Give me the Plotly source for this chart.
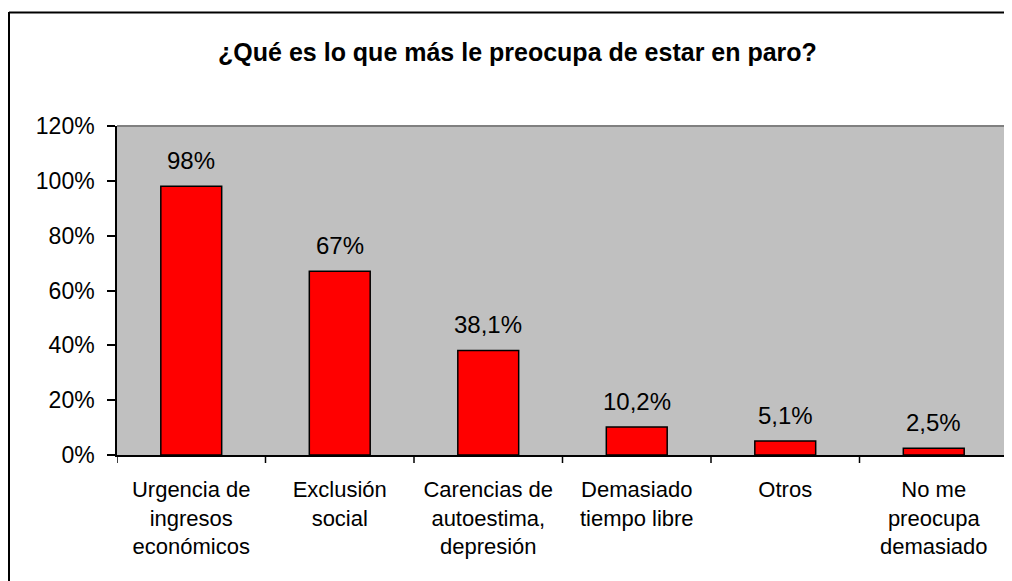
import plotly.graph_objects as go

categories = ["Urgencia de<br>ingresos<br>económicos", "Exclusión<br>social",
              "Carencias de<br>autoestima,<br>depresión", "Demasiado<br>tiempo libre",
              "Otros", "No me<br>preocupa<br>demasiado"]
values = [98, 67, 38.1, 10.2, 5.1, 2.5]
labels = ["98%", "67%", "38,1%", "10,2%", "5,1%", "2,5%"]
tick_vals = [0, 20, 40, 60, 80, 100, 120]
tick_text = ["0%", "20%", "40%", "60%", "80%", "100%", "120%"]

# page body has an 8px margin, so the figure is drawn offset by 8px
W, H = 1004, 573
L, R, T, B = 109, 4, 118, 126
pw, ph = W - L - R, H - T - B

def px(x):
    return (x - L) / pw

def py(y):
    return (H - B - y) / ph

FONT = "Liberation Sans, Arial"
xs = list(range(len(categories)))

fig = go.Figure(go.Bar(
    x=xs, y=values,
    marker=dict(color="#FF0000", line=dict(color="black", width=1.5)),
    cliponaxis=False, width=0.41, hoverinfo="skip",
))

annotations = [dict(x=x, y=v, text=t, xref="x", yref="y", showarrow=False,
                    yanchor="middle", yshift=26,
                    font=dict(family=FONT, size=24, color="black"))
               for x, v, t in zip(xs, values, labels)]

fig.update_layout(
    width=W, height=H,
    margin=dict(l=L, r=R, t=T, b=B),
    paper_bgcolor="white", plot_bgcolor="#C0C0C0",
    showlegend=False,
    font=dict(family=FONT, size=22, color="black"),
    title=dict(text="<b>¿Qué es lo que más le preocupa de estar en paro?</b>",
               x=509.5 / W, xanchor="center", y=1 - 44 / H, yanchor="middle",
               font=dict(size=25, family=FONT)),
    xaxis=dict(range=[-0.5, 5.5], tickvals=xs, ticktext=categories,
               showgrid=False, zeroline=False, showline=True, linecolor="black", linewidth=1.5,
               ticks="", ticklabelstandoff=14, fixedrange=True,
               tickfont=dict(size=22)),
    yaxis=dict(range=[0, 120], tickvals=tick_vals, ticktext=tick_text, showgrid=False,
               zeroline=False, showline=True, linecolor="black", linewidth=1.5,
               ticks="outside", ticklen=8, tickcolor="black", tickwidth=1.5,
               ticklabelstandoff=8, fixedrange=True, tickfont=dict(size=23)),
    annotations=annotations,
)

shapes = []
# category boundary tick marks on the x axis
for i in range(7):
    shapes.append(dict(type="line", xref="x", yref="paper", x0=i - 0.5, x1=i - 0.5,
                       y0=0, y1=py(H - B + 8), line=dict(color="black", width=1.5)))
# gray plot-area border top and right
shapes.append(dict(type="line", xref="paper", yref="paper", x0=0, x1=1, y0=1, y1=1,
                   line=dict(color="#808080", width=2)))
shapes.append(dict(type="line", xref="paper", yref="paper", x0=1, x1=1, y0=0, y1=1,
                   line=dict(color="#808080", width=2)))
# outer chart border (left and top)
shapes.append(dict(type="line", xref="paper", yref="paper", x0=px(1), x1=px(1),
                   y0=py(4), y1=py(H + 5), line=dict(color="black", width=2)))
shapes.append(dict(type="line", xref="paper", yref="paper", x0=px(1), x1=px(W + 5),
                   y0=py(4.5), y1=py(4.5), line=dict(color="black", width=2)))
fig.update_layout(shapes=shapes)

fig.write_html("out.html")
